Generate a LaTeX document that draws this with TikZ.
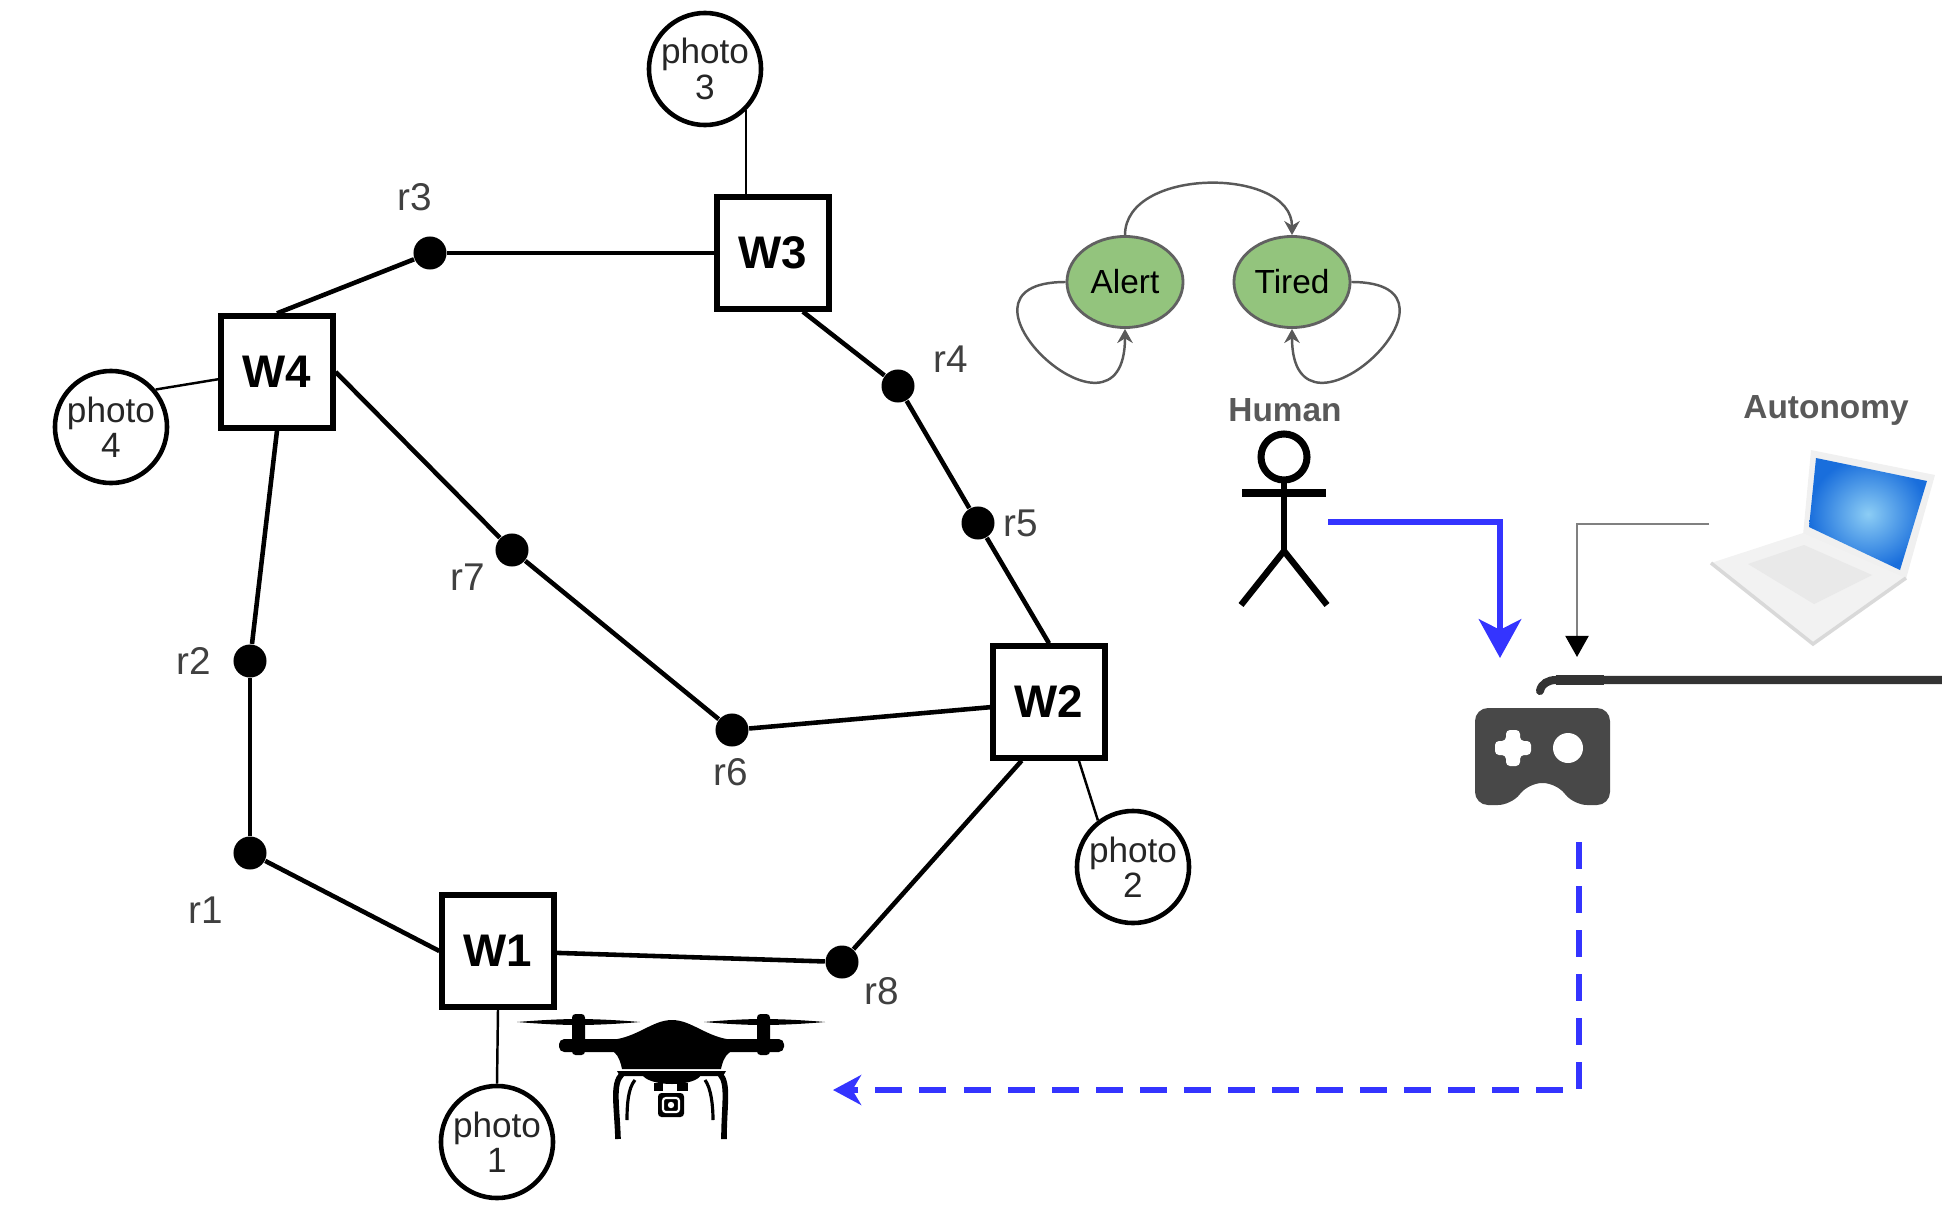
\documentclass[tikz,border=0pt]{standalone}
\usepackage{fontspec}
\setmainfont{Liberation Sans}
\usetikzlibrary{arrows.meta,shapes.geometric}

\definecolor{stategreen}{HTML}{93C47D}
\definecolor{cmdblue}{HTML}{3434FF}
\definecolor{padgray}{HTML}{484848}

\begin{document}
\begin{tikzpicture}[x=0.01cm,y=-0.01cm,-,>=Stealth,
    wp/.style={rectangle,draw,line width=1.5pt,minimum size=1.12cm,inner sep=0pt,font=\fontsize{13}{13}\selectfont\bfseries},
    way/.style={circle,fill,inner sep=0pt,minimum size=0.33cm},
    photo/.style={circle,draw,line width=1.3pt,minimum size=1.12cm,inner sep=0pt,align=center,font=\fontsize{10}{10}\selectfont,text=black!85},
    rlab/.style={font=\fontsize{11}{11}\selectfont,text=black!75},
    road/.style={line width=1.3pt},
    snap/.style={line width=0.7pt},
    state/.style={ellipse,draw=black!62,line width=0.8pt,fill=stategreen,minimum width=1.16cm,minimum height=0.91cm,inner sep=0pt,font=\fontsize{9.5}{9.5}\selectfont},
    trans/.style={draw=black!65,line width=0.7pt,-{Stealth[length=4pt,width=4.4pt]}},
    actor/.style={font=\fontsize{9.5}{9.5}\selectfont\bfseries,text=black!65},
    cmd/.style={draw=cmdblue,line width=1.8pt}]

\useasboundingbox (0,0) rectangle (1942,1206);

% waypoints
\node[wp] (w1) at (498,951) {W1};
\node[wp] (w2) at (1049,702) {W2};
\node[wp] (w3) at (773,253) {W3};
\node[wp] (w4) at (277,372) {W4};

% road points
\node[way] (r1) at (250,853) {};
\node[way] (r2) at (250,661) {};
\node[way] (r3) at (430,253) {};
\node[way] (r4) at (898,386) {};
\node[way] (r5) at (978,523) {};
\node[way] (r6) at (732,730) {};
\node[way] (r7) at (512,550) {};
\node[way] (r8) at (842,962) {};

\node[rlab] (l1) at (206,910) {r1};
\node[rlab] (l2) at (194,661) {r2};
\node[rlab] (l3) at (415,197) {r3};
\node[rlab] (l4) at (951,359) {r4};
\node[rlab] (l5) at (1021,523) {r5};
\node[rlab] (l6) at (731,772) {r6};
\node[rlab] (l7) at (468,577) {r7};
\node[rlab] (l8) at (882,991) {r8};

% photo targets
\node[photo] (p1) at (497,1142) {photo\\1};
\node[photo] (p2) at (1133,867) {photo\\2};
\node[photo] (p3) at (705,69) {photo\\3};
\node[photo] (p4) at (111,427) {photo\\4};

% roads
\draw[road] (w4.north) to (r3);
\draw[road] (r3) to (w3);
\draw[road] (w3.-63) to (r4);
\draw[road] (r4) to (r5);
\draw[road] (r5) to (w2.north);
\draw[road] (w2) to (r6);
\draw[road] (r6) to (r7);
\draw[road] (r7) to (w4.east);
\draw[road] (w4.south) to (r2);
\draw[road] (r2) to (r1);
\draw[road] (r1) to (w1.west);
\draw[road] (w1) to (r8);
\draw[road] (r8) to (w2.-115);

\draw[snap] (p3.-45) to (p3.-45 |- w3.north);
\draw[snap] (p4.40) to (w4.-173);
\draw[snap] (w2.-63) to (p2.127);
\draw[snap] (w1.south) to (p1.north);

% operator states
\node[state] (alert) at (1125,282) {Alert};
\node[state] (tired) at (1292,282) {Tired};

\draw[trans] (alert.north) to[out=90,in=90,looseness=1.05] (tired.north);
\draw[trans] (alert.west) to[out=180,in=-90,looseness=4.6] (alert.south);
\draw[trans] (tired.east) to[out=0,in=-90,looseness=4.6] (tired.south);

% human operator
\node[actor] (hlab) at (1285,410) {Human};
\draw[line width=2pt] (1284,457) circle (23);
\draw[line width=2.4pt] (1242,493) -- (1326,493);
\draw[line width=1.8pt] (1284,481) -- (1284,551);
\draw[line width=1.8pt] (1241,605) -- (1284,551) -- (1327,605);

% autonomy (laptop)
\node[actor] (alab) at (1826,410) {Autonomy};
\fill[gray!12] (1803,535) -- (1811,450) -- (1935,475) -- (1906,579) -- cycle;
\shade[inner color={rgb,255:red,140;green,205;blue,245},outer color={rgb,255:red,25;green,110;blue,220}]
    (1809,527) -- (1816,458) -- (1927,481) -- (1900,570) -- cycle;
\fill[gray!10] (1711,563) -- (1803,533) -- (1906,578) -- (1813,644) -- cycle;
\fill[gray!17] (1748,564) -- (1804,545) -- (1872,575) -- (1814,604) -- cycle;
\draw[gray!30,line width=1pt] (1711,563) -- (1813,644) -- (1906,578);

% controller
\fill[padgray,rounded corners=1.3mm] (1475,708) -- (1610,708) -- (1610,805) -- (1574,805)
    -- (1556,783) -- (1529,783) -- (1511,805) -- (1475,805) -- cycle;
\fill[white,rounded corners=0.4mm] (1506,730) -- (1520,730) -- (1520,741) -- (1531,741)
    -- (1531,755) -- (1520,755) -- (1520,766) -- (1506,766) -- (1506,755) -- (1495,755)
    -- (1495,741) -- (1506,741) -- cycle;
\fill[white] (1568,748) circle (15);
\draw[black!80,line width=2.3pt,line cap=round] (1540,691) to[out=80,in=180] (1556,680) -- (1942,680);
\draw[black!80,line width=2.9pt] (1556,680) -- (1604,680);

% command flow
\coordinate (hand) at (1328,522);
\coordinate (hin) at (1500,658);
\coordinate (lap) at (1709,524);
\coordinate (ain) at (1577,657);
\coordinate (pad) at (1579,842);
\coordinate (uav) at (833,1090);

\draw[cmd,-{Stealth[length=11pt,width=12pt,inset=3pt]}] (hand) -| (hin);
\draw[draw=black!50,line width=0.8pt,-{Triangle[length=6pt,width=6.5pt,color=black]}] (lap) -| (ain);
\draw[cmd,dash pattern=on 0.27cm off 0.17cm,-{Stealth[length=8pt,width=8.5pt,inset=2.5pt]}] (pad) |- (uav);

% drone
\begin{scope}[shift={(672,1080)}]
  % propellers
  \fill (-155,-58) .. controls (-130,-60) and (-110,-61) .. (-94,-61) .. controls (-78,-61) and (-55,-60) .. (-32,-58)
      .. controls (-55,-56) and (-78,-55) .. (-94,-55) .. controls (-110,-55) and (-130,-56) .. cycle;
  \fill (32,-58) .. controls (55,-60) and (75,-61) .. (91,-61) .. controls (107,-61) and (130,-60) .. (153,-58)
      .. controls (130,-56) and (107,-55) .. (91,-55) .. controls (75,-55) and (55,-56) .. cycle;
  % motors
  \fill[rounded corners=1pt] (-100,-66) rectangle (-87,-25);
  \fill[rounded corners=1pt] (85,-66) rectangle (98,-25);
  % arms
  \fill[rounded corners=1.5pt] (-113,-41) rectangle (112,-28);
  % body
  \fill (-62,-40) .. controls (-35,-42) and (-20,-60) .. (0,-60) .. controls (20,-60) and (35,-42) .. (62,-40)
      -- (58,-28) .. controls (52,-24) and (50,-16) .. (49,-11) -- (-50,-11)
      .. controls (-51,-16) and (-53,-24) .. (-58,-28) -- cycle;
  % leg mount and gimbal
  \fill (-55,-9) -- (54,-9) -- (51,-4) -- (-52,-4) -- cycle;
  \fill (-30,-6) -- (29,-6) .. controls (28,0) and (15,4) .. (0,4) .. controls (-15,4) and (-28,0) .. cycle;
  \fill (-18,3) rectangle (-9,11);
  \fill (5,3) rectangle (16,11);
  \fill[rounded corners=1pt] (-14,13) rectangle (12,37);
  \draw[white,line width=0.6pt,rounded corners=0.8pt] (-9,18) rectangle (7,32);
  \fill[white] (-1,25) circle (3.2);
  % legs
  \draw[line width=1.6pt] (-50,-6) .. controls (-60,4) and (-55,25) .. (-54,59);
  \draw[line width=1.6pt] (48,-6) .. controls (57,4) and (52,25) .. (52,59);
  \draw[line width=0.9pt] (-37,0) .. controls (-44,8) and (-45,25) .. (-45,40);
  \draw[line width=0.9pt] (33,0) .. controls (39,8) and (41,25) .. (41,40);
\end{scope}

\end{tikzpicture}
\end{document}
